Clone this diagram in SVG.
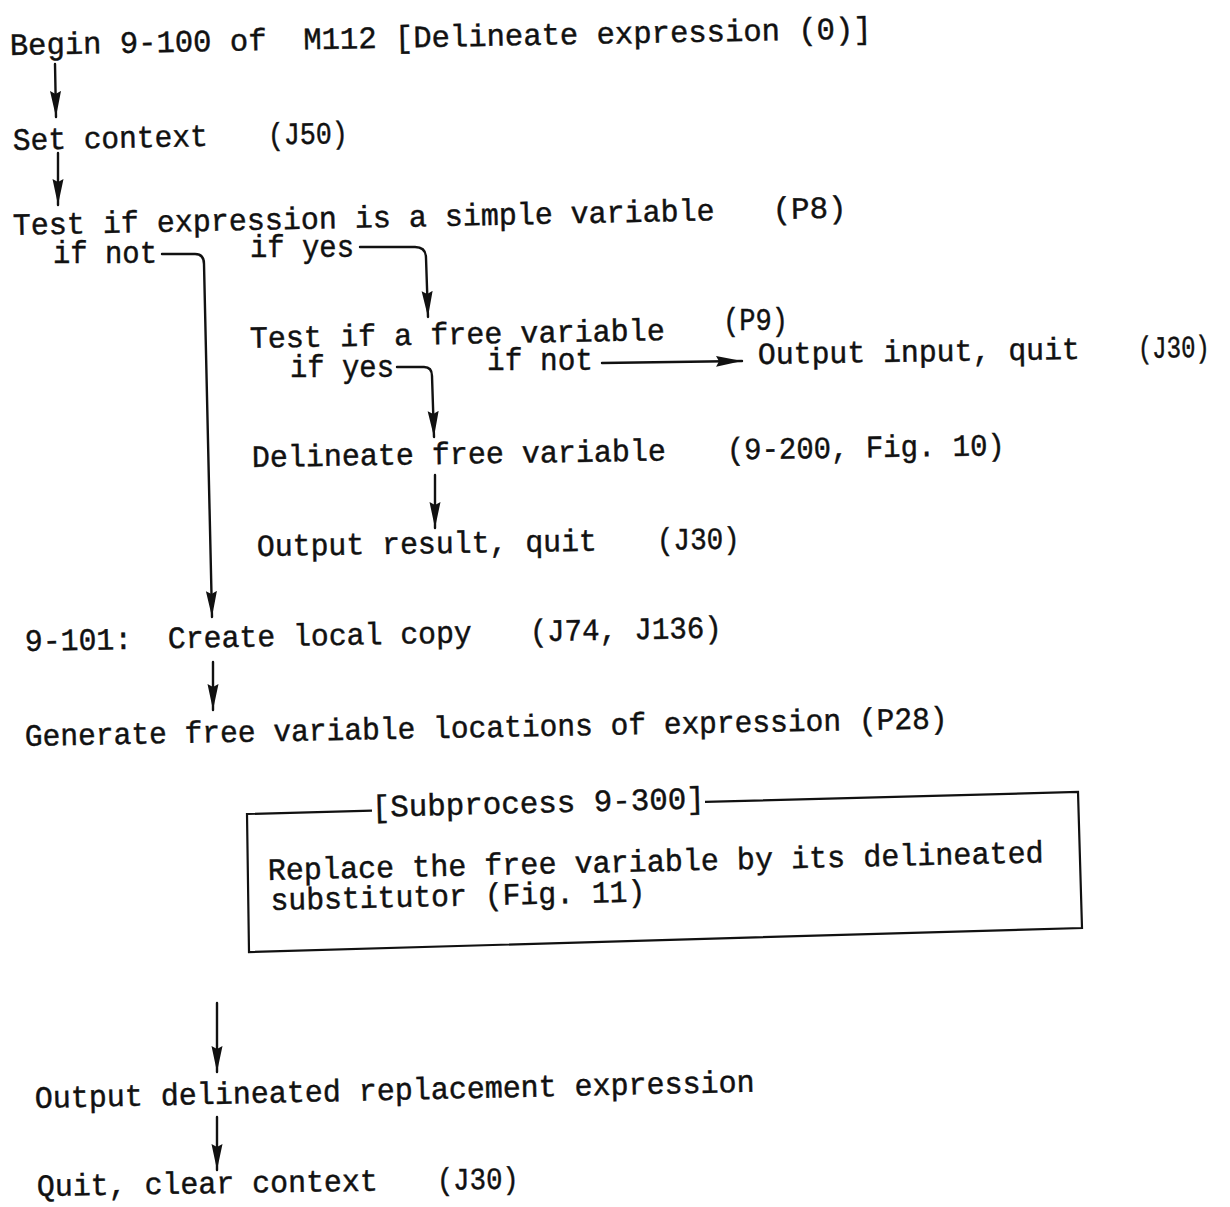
<svg xmlns="http://www.w3.org/2000/svg" width="1230" height="1207" viewBox="0 0 1230 1207">
  <style>
    text { font-family: "Liberation Mono", "Courier New", monospace; font-size: 31px; fill: #111; stroke: #111; stroke-width: 0.45; white-space: pre; }
    .wire { fill: none; stroke: #111; stroke-width: 2.4; stroke-linecap: round; stroke-linejoin: round; }
    .frame { fill: none; stroke: #111; stroke-width: 2.2; }
  </style>
  <defs>
    <marker id="head" markerUnits="userSpaceOnUse" viewBox="0 0 26 12" markerWidth="26" markerHeight="12" refX="26" refY="6" orient="auto">
      <path d="M0,0.5 L26,6 L0,11.5 L3,6 z" fill="#111"/>
    </marker>
  </defs>

  <rect width="1230" height="1207" fill="#fff"/>

  <!-- connectors -->
  <g id="connectors">
    <path class="wire" d="M55,64 L56,117" marker-end="url(#head)"/>
    <path class="wire" d="M58,153 L58,205" marker-end="url(#head)"/>
    <path class="wire" d="M162,254 H195 Q204,254 204,264 L212,617" marker-end="url(#head)"/>
    <path class="wire" d="M360,247 H415 Q426,247 426,258 L428,317" marker-end="url(#head)"/>
    <path class="wire" d="M397,367 H424 Q432,367 432,376 L434,437" marker-end="url(#head)"/>
    <path class="wire" d="M602,363 L742,361" marker-end="url(#head)"/>
    <path class="wire" d="M435,475 L435,528" marker-end="url(#head)"/>
    <path class="wire" d="M213,662 L213,710" marker-end="url(#head)"/>
    <path class="wire" d="M217,1003 L217,1072" marker-end="url(#head)"/>
    <path class="wire" d="M217,1117 L217,1170" marker-end="url(#head)"/>
  </g>

  <g id="begin">
    <text x="10" y="55" textLength="862" lengthAdjust="spacingAndGlyphs" transform="rotate(-1.1 10 55)">Begin 9-100 of  M112 [Delineate expression (0)]</text>
  </g>

  <g id="set-context" transform="rotate(-1.2 13 150)">
    <text x="13" y="150" textLength="195" lengthAdjust="spacingAndGlyphs">Set context</text>
    <text x="268" y="150" textLength="80" lengthAdjust="spacingAndGlyphs">(J50)</text>
  </g>

  <g id="test-simple" transform="rotate(-1.2 13 235)">
    <text x="13" y="235" textLength="702" lengthAdjust="spacingAndGlyphs">Test if expression is a simple variable</text>
    <text x="773" y="235" textLength="74" lengthAdjust="spacingAndGlyphs">(P8)</text>
  </g>
  <g id="simple-branches">
    <text x="53" y="263" textLength="104" lengthAdjust="spacingAndGlyphs">if not</text>
    <text x="250" y="257" textLength="104" lengthAdjust="spacingAndGlyphs">if yes</text>
  </g>

  <g id="test-free">
    <text x="250" y="348" textLength="415" lengthAdjust="spacingAndGlyphs" transform="rotate(-1.1 250 348)">Test if a free variable</text>
    <text x="723" y="330" textLength="65" lengthAdjust="spacingAndGlyphs">(P9)</text>
  </g>
  <g id="free-branches">
    <text x="290" y="377" textLength="104" lengthAdjust="spacingAndGlyphs">if yes</text>
    <text x="487" y="370" textLength="106" lengthAdjust="spacingAndGlyphs">if not</text>
  </g>

  <g id="output-input" transform="rotate(-0.9 758 364)">
    <text x="758" y="364" textLength="322" lengthAdjust="spacingAndGlyphs">Output input, quit</text>
    <text x="1138" y="364" textLength="72" lengthAdjust="spacingAndGlyphs">(J30)</text>
  </g>

  <g id="delineate-free" transform="rotate(-0.9 252 467)">
    <text x="252" y="467" textLength="414" lengthAdjust="spacingAndGlyphs">Delineate free variable</text>
    <text x="727" y="467" textLength="278" lengthAdjust="spacingAndGlyphs">(9-200, Fig. 10)</text>
  </g>

  <g id="output-result" transform="rotate(-0.9 257 556)">
    <text x="257" y="556" textLength="340" lengthAdjust="spacingAndGlyphs">Output result, quit</text>
    <text x="657" y="556" textLength="83" lengthAdjust="spacingAndGlyphs">(J30)</text>
  </g>

  <g id="local-copy" transform="rotate(-1.1 25 651)">
    <text x="25" y="651" textLength="447" lengthAdjust="spacingAndGlyphs">9-101:  Create local copy</text>
    <text x="530" y="651" textLength="192" lengthAdjust="spacingAndGlyphs">(J74, J136)</text>
  </g>

  <g id="generate">
    <text x="25" y="746" textLength="923" lengthAdjust="spacingAndGlyphs" transform="rotate(-1.1 25 746)">Generate free variable locations of expression (P28)</text>
  </g>

  <g id="subprocess-9-300">
    <path class="frame" d="M372,810.7 L247,814 L249,952 L1082,928 L1078,792 L705,801.9"/>
    <text x="372" y="817" textLength="333" lengthAdjust="spacingAndGlyphs" transform="rotate(-1.5 372 817)">[Subprocess 9-300]</text>
    <g transform="rotate(-1.3 268 880)">
      <text x="268" y="880" textLength="776" lengthAdjust="spacingAndGlyphs">Replace the free variable by its delineated</text>
      <text x="270" y="910" textLength="375" lengthAdjust="spacingAndGlyphs">substitutor (Fig. 11)</text>
    </g>
  </g>

  <g id="output-delineated">
    <text x="35" y="1108" textLength="720" lengthAdjust="spacingAndGlyphs" transform="rotate(-1.3 35 1108)">Output delineated replacement expression</text>
  </g>

  <g id="quit-clear" transform="rotate(-0.9 37 1196)">
    <text x="37" y="1196" textLength="341" lengthAdjust="spacingAndGlyphs">Quit, clear context</text>
    <text x="437" y="1196" textLength="82" lengthAdjust="spacingAndGlyphs">(J30)</text>
  </g>
</svg>
